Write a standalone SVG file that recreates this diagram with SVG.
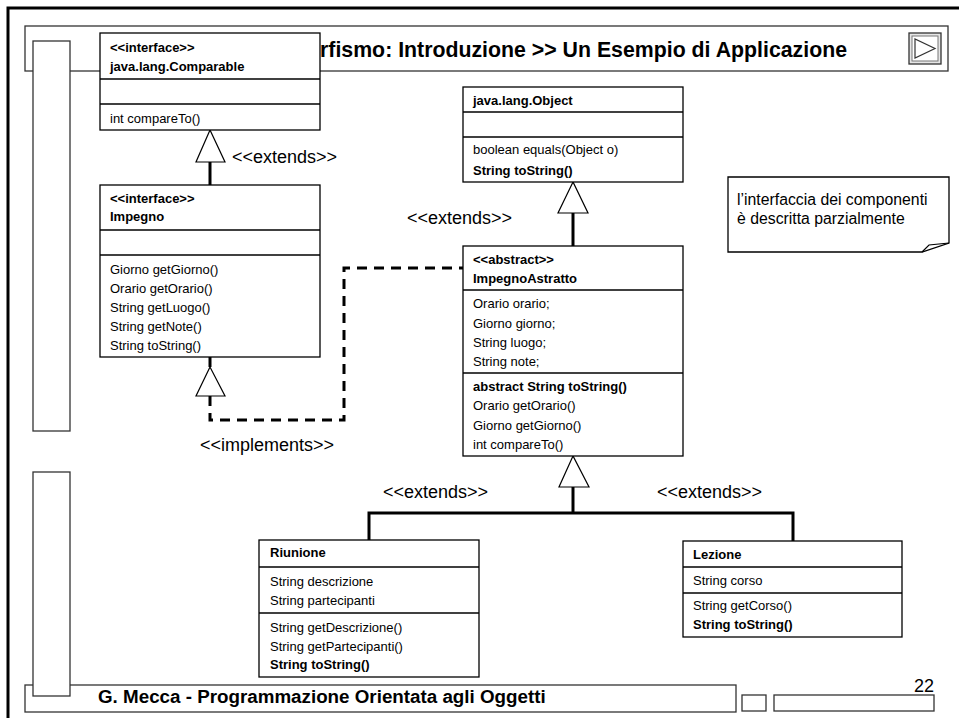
<svg xmlns="http://www.w3.org/2000/svg" width="959" height="718" viewBox="0 0 959 718">
<style>
text{font-family:"Liberation Sans",Arial,Helvetica,sans-serif;fill:#000}
.t{font-size:13px}
.b{font-weight:bold}
.lbl{font-size:18px}
.box{fill:#fff;stroke:#000;stroke-width:1.3}
.div{stroke:#000;stroke-width:1.3;fill:none}
.frame{fill:#fff;stroke:#333;stroke-width:1.3}
.conn{stroke:#000;stroke-width:3;fill:none}
.dash{stroke-dasharray:10 7}
.tri{fill:#fff;stroke:#000;stroke-width:1.2}
</style>
<rect x="0" y="0" width="959" height="718" fill="#fff"/>
<g id="slide">
<rect x="8" y="8" width="1000" height="1000" fill="none" stroke="#000" stroke-width="3"/>
<rect class="frame" x="25" y="26" width="923" height="45"/>
<text class="b" x="847" y="57" font-size="21.3" text-anchor="end">Polimorfismo: Introduzione &gt;&gt; Un Esempio di Applicazione</text>
<g id="nav">
<rect x="909" y="33" width="32" height="31" fill="#e6e6e6" stroke="#333" stroke-width="1.3"/>
<rect x="912" y="36" width="26" height="25" fill="#fff" stroke="#777" stroke-width="1"/>
<polygon points="915,39 915,58 935,48.5" fill="none" stroke="#333" stroke-width="1.2"/>
</g>
<rect class="frame" x="25" y="685" width="711" height="27"/>
<text class="b" x="98" y="703" font-size="18.8">G. Mecca - Programmazione Orientata agli Oggetti</text>
<rect class="frame" x="742" y="695" width="24" height="16"/>
<rect class="frame" x="774" y="695" width="160" height="16"/>
<text x="934" y="692" font-size="18" text-anchor="end">22</text>
<rect class="frame" x="33" y="41" width="37" height="390"/>
<rect class="frame" x="33" y="472" width="37" height="224"/>
</g>
<g id="connectors">
<line class="conn" x1="210" y1="162" x2="210" y2="185"/>
<polygon class="tri" points="210,130 196,162 225,162"/>
<line class="conn" x1="573" y1="213" x2="573" y2="246"/>
<polygon class="tri" points="573,182 558,213 588,213"/>
<line class="conn" x1="210" y1="357" x2="210" y2="367"/>
<polygon class="tri" points="210,367 196,396 225,396"/>
<path class="conn dash" d="M210,396 V420 H344 V268 H463"/>
<line class="conn" x1="573" y1="487" x2="573" y2="513"/>
<polygon class="tri" points="573,456 559,487 589,487"/>
<path class="conn" d="M369,540 V513 H793 V541"/>
<text class="lbl" x="232" y="163">&lt;&lt;extends&gt;&gt;</text>
<text class="lbl" x="407" y="224">&lt;&lt;extends&gt;&gt;</text>
<text class="lbl" x="200" y="451">&lt;&lt;implements&gt;&gt;</text>
<text class="lbl" x="383" y="498">&lt;&lt;extends&gt;&gt;</text>
<text class="lbl" x="657" y="498">&lt;&lt;extends&gt;&gt;</text>
</g>
<g id="comparable">
<rect class="box" x="100" y="33" width="220" height="97"/>
<line class="div" x1="100" y1="79" x2="320" y2="79"/>
<line class="div" x1="100" y1="104" x2="320" y2="104"/>
<text class="t b" x="110" y="52">&lt;&lt;interface&gt;&gt;</text>
<text class="t b" x="110" y="71">java.lang.Comparable</text>
<text class="t" x="110" y="123">int compareTo()</text>
</g>
<g id="impegno">
<rect class="box" x="100" y="185" width="220" height="172"/>
<line class="div" x1="100" y1="230" x2="320" y2="230"/>
<line class="div" x1="100" y1="255" x2="320" y2="255"/>
<text class="t b" x="110" y="203">&lt;&lt;interface&gt;&gt;</text>
<text class="t b" x="110" y="221">Impegno</text>
<text class="t" x="110" y="274">Giorno getGiorno()</text>
<text class="t" x="110" y="293">Orario getOrario()</text>
<text class="t" x="110" y="312">String getLuogo()</text>
<text class="t" x="110" y="331">String getNote()</text>
<text class="t" x="110" y="350">String toString()</text>
</g>
<g id="object">
<rect class="box" x="463" y="87" width="220" height="95"/>
<line class="div" x1="463" y1="112" x2="683" y2="112"/>
<line class="div" x1="463" y1="137" x2="683" y2="137"/>
<text class="t b" x="473" y="105">java.lang.Object</text>
<text class="t" x="473" y="154">boolean equals(Object o)</text>
<text class="t b" x="473" y="175">String toString()</text>
</g>
<g id="note">
<path d="M728,177 H949 V243 L922,252 H728 Z" fill="#fff" stroke="#000" stroke-width="1.3"/>
<path d="M922,252 L929,245 L949,243" fill="none" stroke="#000" stroke-width="1.2"/>
<text x="737" y="205" font-size="15.8">l’interfaccia dei componenti</text>
<text x="737" y="224" font-size="15.8">è descritta parzialmente</text>
</g>
<g id="impegnoAstratto">
<rect class="box" x="463" y="246" width="220" height="210"/>
<line class="div" x1="463" y1="290" x2="683" y2="290"/>
<line class="div" x1="463" y1="373" x2="683" y2="373"/>
<text class="t b" x="473" y="264">&lt;&lt;abstract&gt;&gt;</text>
<text class="t b" x="473" y="283">ImpegnoAstratto</text>
<text class="t" x="473" y="308">Orario orario;</text>
<text class="t" x="473" y="327.5">Giorno giorno;</text>
<text class="t" x="473" y="347">String luogo;</text>
<text class="t" x="473" y="366">String note;</text>
<text class="t b" x="473" y="391">abstract String toString()</text>
<text class="t" x="473" y="410">Orario getOrario()</text>
<text class="t" x="473" y="430">Giorno getGiorno()</text>
<text class="t" x="473" y="449">int compareTo()</text>
</g>
<g id="riunione">
<rect class="box" x="259" y="540" width="220" height="137"/>
<line class="div" x1="259" y1="567" x2="479" y2="567"/>
<line class="div" x1="259" y1="613" x2="479" y2="613"/>
<text class="t b" x="270" y="557">Riunione</text>
<text class="t" x="270" y="585.5">String descrizione</text>
<text class="t" x="270" y="605">String partecipanti</text>
<text class="t" x="270" y="632">String getDescrizione()</text>
<text class="t" x="270" y="651">String getPartecipanti()</text>
<text class="t b" x="270" y="669">String toString()</text>
</g>
<g id="lezione">
<rect class="box" x="683" y="541" width="219" height="96"/>
<line class="div" x1="683" y1="567" x2="902" y2="567"/>
<line class="div" x1="683" y1="593" x2="902" y2="593"/>
<text class="t b" x="693" y="559">Lezione</text>
<text class="t" x="693" y="585">String corso</text>
<text class="t" x="693" y="610">String getCorso()</text>
<text class="t b" x="693" y="629">String toString()</text>
</g>
</svg>
